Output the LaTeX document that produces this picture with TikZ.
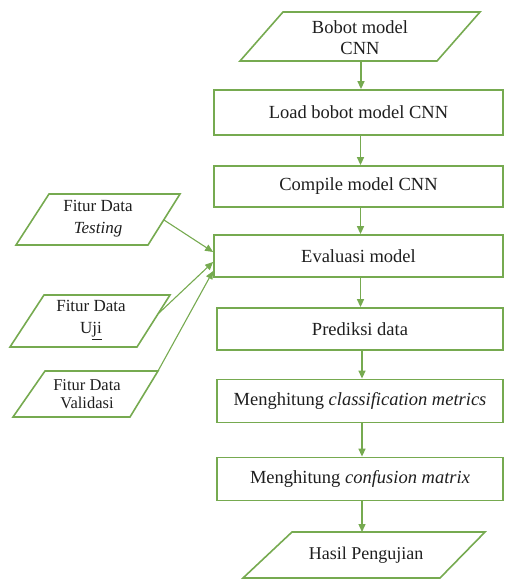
\documentclass[tikz,border=0pt]{standalone}
\usepackage{fontspec}
\setmainfont{Liberation Serif}
\usetikzlibrary{arrows.meta}
\definecolor{lg}{RGB}{118,170,80}
\definecolor{txt}{RGB}{30,30,30}
\tikzset{
  box/.style={draw=lg, line width=1.8pt, rectangle, minimum height=43pt, inner sep=0pt, text=txt, font=\fontsize{18.5}{21}\selectfont},
  io/.style={draw=lg, line width=1.6pt, line join=miter},
  iotext/.style={align=center, text=txt, inner sep=0pt},
  arr/.style={draw=lg, line width=1.4pt, -{Triangle[length=8pt,width=7pt]}},
  sidearr/.style={draw=lg, line width=1.1pt, -{Triangle[length=8pt,width=7pt]}}
}
\begin{document}
\begin{tikzpicture}[x=1pt,y=-1pt]
\useasboundingbox (0,0) rectangle (507,580);
% Bobot model CNN
\draw[io] (283,12) -- (480,12) -- (437,61) -- (240,61) -- cycle;
\node[iotext, font=\fontsize{18.5}{21}\selectfont] (bobot) at (360,38) {Bobot model\\CNN};
\coordinate (bobotB) at (361,61);
% main boxes
\node[box, minimum width=289pt, minimum height=45pt] (load) at (358.5,112.5) {Load bobot model CNN};
\node[box, minimum width=289pt, minimum height=41pt] (compile) at (358.5,186.5) {Compile model CNN};
\node[box, minimum width=289pt, minimum height=42pt] (eval) at (358.5,256) {Evaluasi model};
\node[box, minimum width=286pt, minimum height=42pt] (pred) at (360,329) {Prediksi data};
\node[box, minimum width=286pt, minimum height=43pt] (cls) at (360,401) {Menghitung \textit{classification metrics}};
\node[box, minimum width=286pt, minimum height=43pt] (conf) at (360,479) {Menghitung \textit{confusion matrix}};
% Hasil Pengujian
\draw[io] (292,532) -- (485,532) -- (440,578) -- (243,578) -- cycle;
\node[iotext, font=\fontsize{18}{21}\selectfont] (hasil) at (366,555) {Hasil Pengujian};
\coordinate (hasilT) at (362,532);
% left inputs
\draw[io] (49,194) -- (180,194) -- (148,245) -- (16,245) -- cycle;
\node[iotext, font=\fontsize{17}{22}\selectfont] (testing) at (98,219) {Fitur Data\\\textit{Testing}};
\coordinate (testingE) at (164,220);
\draw[io] (44,295) -- (170,295) -- (137,347) -- (10,347) -- cycle;
\node[iotext, font=\fontsize{17}{22}\selectfont] (uji) at (91,320) {Fitur Data\\U\underline{ji}};
\coordinate (ujiE) at (159,313);
\draw[io] (45,371) -- (158,371) -- (130,417) -- (13,417) -- cycle;
\node[iotext, font=\fontsize{16.5}{18}\selectfont] (valid) at (87,394) {Fitur Data\\Validasi};
\coordinate (validE) at (158,371);
% vertical flow
\draw[arr] (bobotB) -- (bobotB |- load.north);
\draw[arr] ([xshift=2pt]load.south) -- ([xshift=2pt]compile.north);
\draw[arr] ([xshift=2pt]compile.south) -- ([xshift=2pt]eval.north);
\draw[arr] ([xshift=2pt]eval.south) -- ([xshift=0.5pt]pred.north);
\draw[arr] ([xshift=2pt]pred.south) -- ([xshift=2pt]cls.north);
\draw[arr] ([xshift=2pt]cls.south) -- ([xshift=2pt]conf.north);
\draw[arr] ([xshift=2pt]conf.south) -- (hasilT);
% side inputs
\draw[sidearr] (testingE) -- ([yshift=4pt]eval.west);
\draw[sidearr] (ujiE) -- ([yshift=-6pt]eval.west);
\draw[sidearr] (validE) -- ([yshift=-15pt]eval.west);
\end{tikzpicture}
\end{document}
